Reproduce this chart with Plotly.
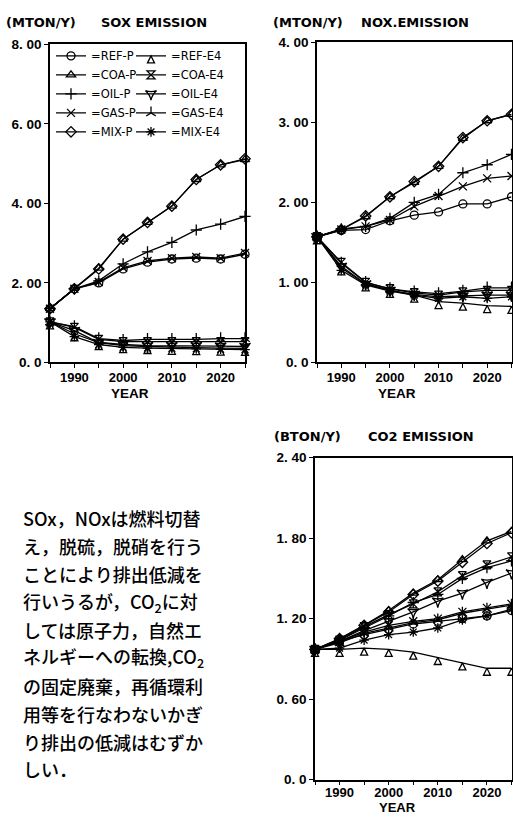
import plotly.graph_objects as go

# ---------------- data ----------------
years = [1985, 1990, 1995, 2000, 2005, 2010, 2015, 2020, 2025]
series_names = ["REF-P", "COA-P", "OIL-P", "GAS-P", "MIX-P",
                "REF-E4", "COA-E4", "OIL-E4", "GAS-E4", "MIX-E4"]

# SOX emission (MTON/Y)
sox_ref_p = [1.35, 1.85, 2.00, 2.35, 2.52, 2.60, 2.62, 2.60, 2.72]
sox_coa_p = [1.35, 1.87, 2.37, 3.10, 3.52, 3.93, 4.60, 4.97, 5.10]
sox_oil_p = [1.35, 1.85, 2.05, 2.48, 2.78, 3.02, 3.33, 3.48, 3.67]
sox_gas_p = [1.35, 1.85, 2.02, 2.38, 2.55, 2.62, 2.65, 2.62, 2.75]
sox_mix_p = [1.35, 1.85, 2.35, 3.10, 3.52, 3.93, 4.60, 4.97, 5.12]
sox_ref_e4 = [1.02, 0.72, 0.50, 0.42, 0.40, 0.38, 0.37, 0.36, 0.35]
sox_coa_e4 = [1.02, 0.88, 0.58, 0.52, 0.52, 0.52, 0.52, 0.52, 0.52]
sox_oil_e4 = [1.02, 0.80, 0.50, 0.45, 0.42, 0.42, 0.42, 0.41, 0.40]
sox_gas_e4 = [1.02, 0.90, 0.60, 0.55, 0.58, 0.58, 0.58, 0.60, 0.60]
sox_mix_e4 = [1.02, 0.65, 0.45, 0.38, 0.36, 0.35, 0.34, 0.33, 0.32]

# NOX emission (MTON/Y)
nox_ref_p = [1.57, 1.65, 1.66, 1.77, 1.84, 1.88, 1.98, 1.98, 2.07]
nox_coa_p = [1.57, 1.66, 1.82, 2.07, 2.25, 2.45, 2.80, 3.02, 3.10]
nox_oil_p = [1.57, 1.67, 1.70, 1.80, 2.00, 2.10, 2.37, 2.47, 2.60]
nox_gas_p = [1.57, 1.66, 1.70, 1.78, 1.95, 2.08, 2.20, 2.30, 2.33]
nox_mix_p = [1.57, 1.66, 1.83, 2.07, 2.26, 2.45, 2.81, 3.02, 3.10]
nox_ref_e4 = [1.57, 1.18, 0.98, 0.90, 0.84, 0.76, 0.74, 0.71, 0.70]
nox_coa_e4 = [1.57, 1.25, 1.00, 0.92, 0.87, 0.84, 0.88, 0.90, 0.90]
nox_oil_e4 = [1.57, 1.20, 0.98, 0.90, 0.85, 0.82, 0.83, 0.84, 0.84]
nox_gas_e4 = [1.57, 1.24, 1.00, 0.92, 0.88, 0.86, 0.89, 0.93, 0.93]
nox_mix_e4 = [1.57, 1.15, 0.97, 0.89, 0.84, 0.80, 0.82, 0.80, 0.82]

# CO2 emission (BTON/Y)
co2_ref_p = [0.97, 1.03, 1.08, 1.12, 1.16, 1.18, 1.20, 1.22, 1.26]
co2_coa_p = [0.97, 1.05, 1.15, 1.26, 1.39, 1.49, 1.64, 1.78, 1.85]
co2_oil_p = [0.97, 1.04, 1.13, 1.22, 1.32, 1.38, 1.50, 1.58, 1.63]
co2_gas_p = [0.97, 1.03, 1.10, 1.15, 1.18, 1.20, 1.25, 1.28, 1.31]
co2_mix_p = [0.97, 1.05, 1.15, 1.25, 1.38, 1.48, 1.62, 1.76, 1.84]
co2_ref_e4 = [0.97, 0.97, 0.98, 0.97, 0.95, 0.91, 0.87, 0.83, 0.83]
co2_coa_e4 = [0.97, 1.04, 1.14, 1.23, 1.31, 1.40, 1.52, 1.60, 1.66]
co2_oil_e4 = [0.97, 1.03, 1.11, 1.18, 1.25, 1.33, 1.39, 1.47, 1.54]
co2_gas_e4 = [0.97, 1.02, 1.09, 1.13, 1.17, 1.19, 1.24, 1.27, 1.30]
co2_mix_e4 = [0.97, 0.98, 1.04, 1.08, 1.10, 1.13, 1.19, 1.22, 1.27]

x_tickvals = [1990, 2000, 2010, 2020]
x_ticktext = ["1990", "2000", "2010", "2020"]
sox_tickvals = [0, 2, 4, 6, 8]
sox_ticktext = ["0. 0", "2. 00", "4. 00", "6. 00", "8. 00"]
nox_tickvals = [0, 1, 2, 3, 4]
nox_ticktext = ["0. 0", "1. 00", "2. 00", "3. 00", "4. 00"]
co2_tickvals = [0, 0.6, 1.2, 1.8, 2.4]
co2_ticktext = ["0. 0", "0. 60", "1. 20", "1. 80", "2. 40"]

note_lines = [
    "SOx，NOxは燃料切替",
    "え，脱硫，脱硝を行う",
    "ことにより排出低減を",
    "行いうるが，CO<sub>2</sub>に対",
    "しては原子力，自然エ",
    "ネルギーへの転換,CO<sub>2</sub>",
    "の固定廃棄，再循環利",
    "用等を行なわないかぎ",
    "り排出の低減はむずか",
    "しい．",
]

# ---------------- figure ----------------
W, H = 513, 821
def px(x):
    return x / W
def py(y):
    return 1 - y / H

symbols = {
    "REF-P": "circle-open", "COA-P": "triangle-up-open", "OIL-P": "cross-thin-open",
    "GAS-P": "x-thin-open", "MIX-P": "diamond-open",
    "REF-E4": "arrow-up-open", "COA-E4": "hourglass-open", "OIL-E4": "star-triangle-down-open",
    "GAS-E4": "y-up-open", "MIX-E4": "asterisk-open",
}

panels = [
    ("x", "y", [sox_ref_p, sox_coa_p, sox_oil_p, sox_gas_p, sox_mix_p,
                sox_ref_e4, sox_coa_e4, sox_oil_e4, sox_gas_e4, sox_mix_e4]),
    ("x2", "y2", [nox_ref_p, nox_coa_p, nox_oil_p, nox_gas_p, nox_mix_p,
                  nox_ref_e4, nox_coa_e4, nox_oil_e4, nox_gas_e4, nox_mix_e4]),
    ("x3", "y3", [co2_ref_p, co2_coa_p, co2_oil_p, co2_gas_p, co2_mix_p,
                  co2_ref_e4, co2_coa_e4, co2_oil_e4, co2_gas_e4, co2_mix_e4]),
]

fig = go.Figure()
for pi, (xa, ya, data) in enumerate(panels):
    for name, vals in zip(series_names, data):
        is_e4 = name.endswith("E4")
        fig.add_trace(go.Scatter(
            x=years, y=vals, name="=" + name, xaxis=xa, yaxis=ya,
            mode="lines+markers", cliponaxis=False,
            line=dict(color="black", width=1.3),
            marker=dict(symbol=symbols[name], size=7 if name == "REF-E4" else 8,
                        color="black", line=dict(color="black", width=1.3)),
            showlegend=(pi == 0),
            legend="legend2" if is_e4 else "legend",
        ))

axis_common = dict(showline=True, linecolor="black", linewidth=1.6, mirror=True,
                   ticks="outside", ticklen=4, tickwidth=1.3, tickcolor="black",
                   showgrid=False, zeroline=False)
xfont = dict(family="Liberation Sans", size=13, color="black", weight="bold")
yfont = dict(family="Liberation Sans", size=13.5, color="black", weight="bold")

def xaxis(domain, anchor, standoff=-2):
    return dict(domain=domain, anchor=anchor, range=[1985, 2025],
                tickvals=x_tickvals, ticktext=x_ticktext, tickfont=xfont,
                ticklabelstandoff=standoff,
                minor=dict(tick0=1985, dtick=5, ticks="outside", ticklen=4,
                           tickwidth=1.3, tickcolor="black", showgrid=False),
                **axis_common)

def yaxis(domain, anchor, rng, tv, tt):
    return dict(domain=domain, anchor=anchor, range=rng, tickvals=tv, ticktext=tt,
                tickfont=yfont, **axis_common)

title_font = dict(family="DejaVu Sans", size=13, color="black", weight=600)
ann = []
def add_text(text, x, y, font, xanchor="left"):
    ann.append(dict(text=text, x=px(x), y=py(y), xref="paper", yref="paper",
                    xanchor=xanchor, yanchor="middle", showarrow=False, font=font))

add_text("(MTON/Y)", 4, 16, title_font)
add_text("SOX EMISSION", 99, 16, title_font)
add_text("(MTON/Y)", 271, 16, title_font)
add_text("NOX.EMISSION", 359, 16, title_font)
add_text("(BTON/Y)", 272, 437, title_font)
add_text("CO2 EMISSION", 366, 437, title_font)

year_font = dict(family="Liberation Sans", size=13.5, color="black", weight="bold")
year_font_small = dict(family="Liberation Sans", size=13, color="black", weight="bold")
add_text("YEAR", 130, 394, year_font, "center")
add_text("YEAR", 397, 394, year_font, "center")
add_text("YEAR", 397, 815, year_font_small, "center")

note_font = dict(family="Noto Sans CJK JP", size=18, color="black", weight=500)
for i, line in enumerate(note_lines):
    add_text(line, 21, 521 + i * 28.4, note_font)

leg_font = dict(family="DejaVu Sans", size=11.5, color="black")
fig.update_layout(
    width=W, height=H, margin=dict(l=0, r=0, t=0, b=0),
    paper_bgcolor="white", plot_bgcolor="white",
    xaxis=xaxis([px(50), px(245)], "y"),
    yaxis=yaxis([py(362), py(38)], "x", [0, 8], sox_tickvals, sox_ticktext),
    xaxis2=xaxis([px(317), px(511.5)], "y2"),
    yaxis2=yaxis([py(362), py(36)], "x2", [0, 4], nox_tickvals, nox_ticktext),
    xaxis3=xaxis([px(315), px(511.5)], "y3", standoff=-4),
    yaxis3=yaxis([py(787), py(459)], "x3", [0, 2.4], co2_tickvals, co2_ticktext),
    legend=dict(x=px(51), y=py(35), xanchor="left", yanchor="top",
                bgcolor="rgba(0,0,0,0)", font=leg_font, itemwidth=30),
    legend2=dict(x=px(131), y=py(35), xanchor="left", yanchor="top",
                 bgcolor="rgba(0,0,0,0)", font=leg_font, itemwidth=30),
    annotations=ann,
    showlegend=True,
)

fig.write_html(
    "out.html",
    config={"displayModeBar": False},
    post_script="document.body.style.margin='0px';document.body.style.overflow='hidden';",
)
